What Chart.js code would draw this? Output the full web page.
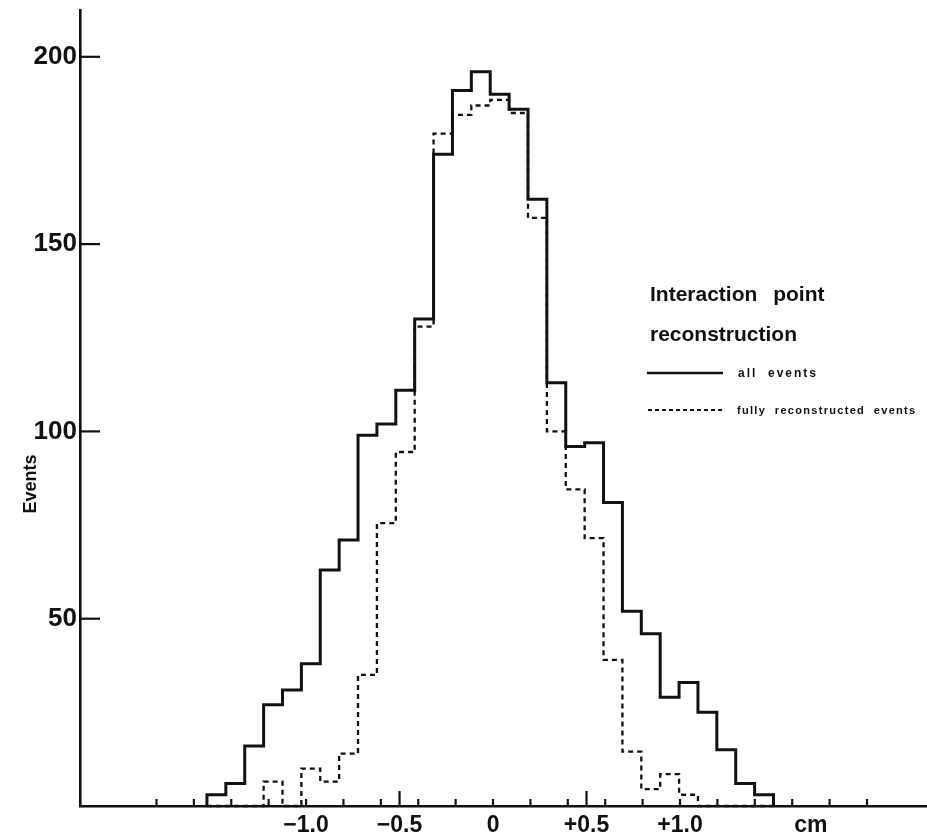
<!DOCTYPE html>
<html>
<head>
<meta charset="utf-8">
<script src="https://cdn.jsdelivr.net/npm/chart.js@4/dist/chart.umd.min.js"></script>
<style>
  html, body { margin: 0; padding: 0; background: #fff; }
  #wrap { width: 927px; height: 837px; position: relative; }
</style>
</head>
<body>
<div id="wrap"><canvas id="histo"></canvas></div>
<script>
// histogram bins along the beam axis (cm)
const BIN_START = -1.53;
const BIN_WIDTH = 0.101;

// events per bin
const allEvents = [3, 6, 16, 27, 31, 38, 63, 71, 99, 102, 111, 130, 174, 191, 196, 190, 186, 162, 113, 96, 97, 81, 52, 46, 29, 33, 25, 15, 6, 3];
const fullyReconstructed = [0, 0, 0, 6.5, 0, 10, 6.5, 14, 35, 75.5, 94.5, 128, 179.5, 184.5, 187, 188.5, 185, 157, 100, 84.5, 71.5, 39, 14.5, 4.5, 8.5, 3, 0, 0, 0, 0];

// axes
const yTicks = [50, 100, 150, 200];
const xTickMarks = [-1.8, -1.6, -1.4, -1.2, -1.0, -0.8, -0.6, -0.4, -0.2, 0, 0.2, 0.4, 0.6, 0.8, 1.0, 1.2, 1.4, 1.6, 1.8, 2.0];
const xLongTicks = [-0.5, 0.5];
const xLabelValues = [-1.0, -0.5, 0, 0.5, 1.0, 1.7];
const xLabelTexts = ["\u22121.0", "\u22120.5", "0", "+0.5", "+1.0", "cm"];

const INK = "#111";
const FONT = "'Liberation Sans', Arial, sans-serif";

// outline of a histogram: start on the baseline, one point per bin edge, back down at the end
function stepPoints(counts) {
  const pts = [{ x: BIN_START, y: 0 }];
  counts.forEach((c, i) => pts.push({ x: BIN_START + i * BIN_WIDTH, y: c }));
  pts.push({ x: BIN_START + counts.length * BIN_WIDTH, y: 0 });
  return pts;
}

function seg(ctx, x1, y1, x2, y2) {
  ctx.beginPath();
  ctx.moveTo(x1, y1);
  ctx.lineTo(x2, y2);
  ctx.stroke();
}

// inward ticks, rotated axis title and the key on the right
const frame = {
  id: "frame",
  afterDraw(chart) {
    const { ctx, chartArea, scales: { x, y } } = chart;
    ctx.save();
    ctx.strokeStyle = INK;
    ctx.fillStyle = INK;
    ctx.lineWidth = 2.2;

    yTicks.forEach((v) => {
      const py = y.getPixelForValue(v);
      seg(ctx, chartArea.left, py, chartArea.left + 20, py);
    });
    xTickMarks.forEach((v) => {
      const px = x.getPixelForValue(v);
      seg(ctx, px, chartArea.bottom, px, chartArea.bottom - 7);
    });
    xLongTicks.forEach((v) => {
      const px = x.getPixelForValue(v);
      seg(ctx, px, chartArea.bottom, px, chartArea.bottom - 15);
    });

    ctx.save();
    ctx.translate(31, 484);
    ctx.rotate(-Math.PI / 2);
    ctx.font = `bold 18px ${FONT}`;
    ctx.textAlign = "center";
    ctx.textBaseline = "middle";
    ctx.fillText("Events", 0, 0);
    ctx.restore();

    // key
    ctx.textAlign = "left";
    ctx.textBaseline = "alphabetic";
    ctx.font = `bold 21px ${FONT}`;
    ctx.wordSpacing = "10px";
    ctx.fillText("Interaction point", 650, 301);
    ctx.wordSpacing = "0px";
    ctx.fillText("reconstruction", 650, 341);

    ctx.lineWidth = 2.5;
    seg(ctx, 647, 373, 723, 373);
    ctx.setLineDash([4, 3]);
    ctx.lineWidth = 2;
    seg(ctx, 648, 410, 722, 410);
    ctx.setLineDash([]);

    ctx.font = `bold 12px ${FONT}`;
    ctx.letterSpacing = "2px";
    ctx.fillText("all  events", 738, 377);
    ctx.font = `bold 11px ${FONT}`;
    ctx.letterSpacing = "1.3px";
    ctx.fillText("fully  reconstructed  events", 737, 414);
    ctx.restore();
  }
};

new Chart(document.getElementById("histo"), {
  type: "line",
  data: {
    datasets: [
      {
        label: "all events",
        data: stepPoints(allEvents),
        stepped: true,
        borderColor: INK,
        borderWidth: 3,
        pointRadius: 0,
        fill: false,
        clip: false,
      },
      {
        label: "fully reconstructed events",
        data: stepPoints(fullyReconstructed),
        stepped: true,
        borderColor: INK,
        borderWidth: 2.3,
        borderDash: [5, 4],
        pointRadius: 0,
        fill: false,
        clip: false,
      },
    ],
  },
  options: {
    responsive: true,
    maintainAspectRatio: false,
    animation: false,
    events: [],
    layout: { padding: { top: 10, right: 0, bottom: 0, left: 0 } },
    plugins: { legend: { display: false }, tooltip: { enabled: false } },
    scales: {
      x: {
        type: "linear",
        min: -2.209,
        max: 2.321,
        afterBuildTicks: (s) => { s.ticks = xLabelValues.map((v) => ({ value: v })); },
        afterFit: (s) => {
          s.height = 31;
          s.paddingLeft = 0;
          s.paddingRight = 0;
        },
        grid: { display: false, drawTicks: false },
        border: { display: true, color: INK, width: 2.6 },
        ticks: {
          autoSkip: false,
          maxRotation: 0,
          padding: 6,
          color: INK,
          font: { family: FONT, size: 23, weight: "bold" },
          callback: (v) => {
            const i = xLabelValues.indexOf(v);
            return i < 0 ? "" : xLabelTexts[i];
          },
        },
      },
      y: {
        min: 0,
        max: 212.5,
        afterBuildTicks: (s) => { s.ticks = yTicks.map((v) => ({ value: v })); },
        afterFit: (s) => {
          s.width = 80;
          s.paddingTop = 0;
          s.paddingBottom = 0;
        },
        grid: { display: false, drawTicks: false },
        border: { display: true, color: INK, width: 2.6 },
        ticks: {
          padding: 3,
          color: INK,
          font: { family: FONT, size: 26, weight: "bold" },
        },
      },
    },
  },
  plugins: [frame],
});
</script>
</body>
</html>
